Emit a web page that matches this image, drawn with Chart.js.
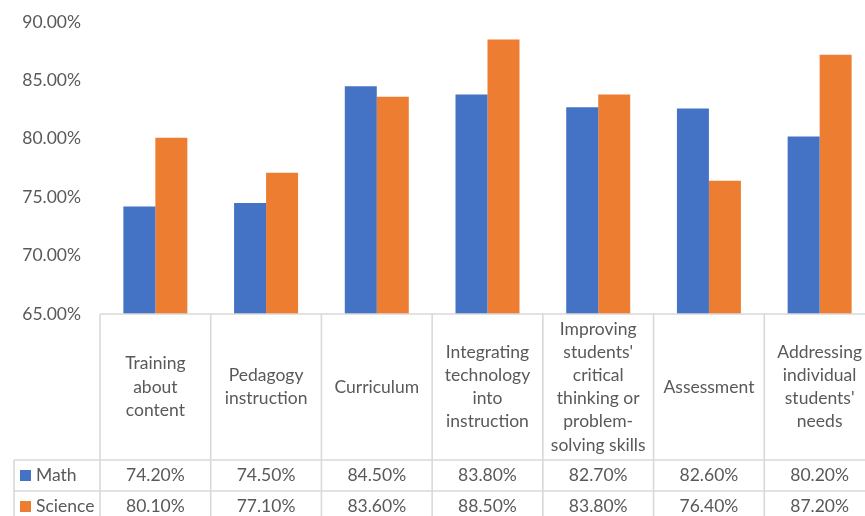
<!DOCTYPE html>
<html>
<head>
<meta charset="utf-8">
<script src="https://cdn.jsdelivr.net/npm/chart.js@4/dist/chart.umd.min.js"></script>
<style>
  html, body { margin: 0; padding: 0; background: #ffffff; overflow: hidden; }
  #wrap { width: 880px; height: 516px; position: relative; }
</style>
</head>
<body>
<div id="wrap"><canvas id="c" width="880" height="516"></canvas></div>
<script>
// ---- data ----
const categories = [
  ["Training", "about", "content"],
  ["Pedagogy", "instruction"],
  ["Curriculum"],
  ["Integrating", "technology", "into", "instruction"],
  ["Improving", "students'", "critical", "thinking or", "problem-", "solving skills"],
  ["Assessment"],
  ["Addressing", "individual", "students'", "needs"]
];
const seriesNames = ["Math", "Science"];
const mathValues = [74.2, 74.5, 84.5, 83.8, 82.7, 82.6, 80.2];
const scienceValues = [80.1, 77.1, 83.6, 88.5, 83.8, 76.4, 87.2];
const yMin = 65, yMax = 90, yStep = 5;

// ---- style ----
const FONT = "Lato";
const FSIZE = 17.5;
const TEXT = "#595959";
const LINE = "#d9d9d9";
const colors = ["#4472c4", "#ed7d31"];

const fmt = v => v.toFixed(2) + "%";

const tablePlugin = {
  id: "dataTable",
  afterDraw(chart) {
    const ctx = chart.ctx;
    const x = chart.scales.x;
    const area = chart.chartArea;
    const n = categories.length;
    const w = (x.right - x.left) / n;
    const top = area.bottom;
    const headerH = 146, rowH = 31;
    const row1 = top + headerH, row2 = row1 + rowH;
    const legendLeft = 14;
    const H = chart.height, W = chart.width;

    ctx.save();
    ctx.strokeStyle = LINE;
    ctx.lineWidth = 1.6;
    ctx.beginPath();
    ctx.moveTo(x.left, top); ctx.lineTo(W, top);
    ctx.moveTo(legendLeft, row1); ctx.lineTo(W, row1);
    ctx.moveTo(legendLeft, row2); ctx.lineTo(W, row2);
    for (let i = 0; i <= n; i++) {
      const bx = x.left + i * w;
      ctx.moveTo(bx, top); ctx.lineTo(bx, H);
    }
    ctx.moveTo(legendLeft, row1); ctx.lineTo(legendLeft, H);
    ctx.stroke();

    ctx.fillStyle = TEXT;
    ctx.font = FSIZE + "px " + FONT;
    ctx.textAlign = "center";
    ctx.textBaseline = "middle";
    const lh = 23.2;
    const headMid = top + headerH / 2;
    categories.forEach((lines, i) => {
      const cx = x.getPixelForValue(i);
      const y0 = headMid - (lines.length - 1) * lh / 2;
      lines.forEach((t, k) => ctx.fillText(t, cx, y0 + k * lh));
      ctx.fillText(fmt(mathValues[i]), cx, row1 + rowH / 2);
      ctx.fillText(fmt(scienceValues[i]), cx, row2 + rowH / 2);
    });

    ctx.textAlign = "left";
    [row1, row2].forEach((ry, s) => {
      ctx.fillStyle = colors[s];
      ctx.fillRect(20, ry + rowH / 2 - 5.5, 11, 11);
      ctx.fillStyle = TEXT;
      ctx.fillText(seriesNames[s], 36, ry + rowH / 2);
    });
    ctx.restore();
  }
};

new Chart(document.getElementById("c"), {
  type: "bar",
  data: {
    labels: categories,
    datasets: [
      { label: seriesNames[0], data: mathValues, backgroundColor: colors[0] },
      { label: seriesNames[1], data: scienceValues, backgroundColor: colors[1] }
    ]
  },
  options: {
    responsive: false,
    animation: false,
    devicePixelRatio: 1,
    layout: { padding: { top: 22, bottom: 202, left: 0, right: 5 } },
    plugins: { legend: { display: false }, tooltip: { enabled: false } },
    datasets: { bar: { categoryPercentage: 0.578, barPercentage: 1.0 } },
    scales: {
      x: {
        display: true,
        grid: { display: false, drawTicks: false },
        border: { display: false },
        ticks: { display: false }
      },
      y: {
        min: yMin, max: yMax,
        grid: { display: false, drawTicks: false, tickLength: 0 },
        border: { display: false },
        ticks: {
          stepSize: yStep,
          padding: 19,
          color: TEXT,
          font: { family: FONT, size: FSIZE },
          callback: v => fmt(v)
        },
        afterFit(scale) {
          scale.width = 100;
          scale.paddingTop = 0;
          scale.paddingBottom = 0;
        }
      }
    }
  },
  plugins: [tablePlugin]
});
</script>
</body>
</html>
